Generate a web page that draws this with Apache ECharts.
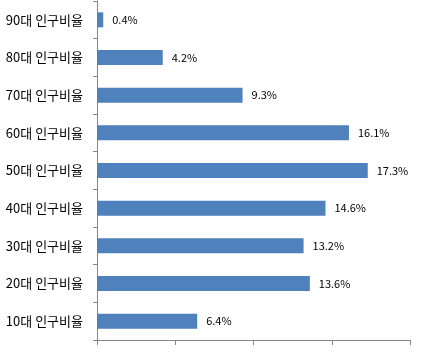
<!DOCTYPE html>
<html>
<head>
<meta charset="utf-8">
<script src="https://cdn.jsdelivr.net/npm/echarts@6/dist/echarts.min.js"></script>
<style>
  html, body { margin: 0; padding: 0; background: #fff; }
  #chart { width: 427px; height: 352px; }
</style>
</head>
<body>
<div id="chart"></div>
<script>
const categories = ['10대 인구비율', '20대 인구비율', '30대 인구비율', '40대 인구비율', '50대 인구비율', '60대 인구비율', '70대 인구비율', '80대 인구비율', '90대 인구비율']
const ratios = [6.4, 13.6, 13.2, 14.6, 17.3, 16.1, 9.3, 4.2, 0.4]

const chart = echarts.init(document.getElementById('chart'))

chart.setOption({
  animation: false,
  grid: { left: 97, right: 17, top: 1, bottom: 12, containLabel: false },
  xAxis: {
    type: 'value',
    min: 0,
    max: 20,
    interval: 5,
    axisLine: { show: true, lineStyle: { color: '#868686', width: 1 } },
    axisTick: { show: true, length: 5, lineStyle: { color: '#868686' } },
    axisLabel: { show: false },
    splitLine: { show: false }
  },
  yAxis: {
    type: 'category',
    data: categories,
    axisLine: { show: true, lineStyle: { color: '#868686', width: 1 } },
    axisTick: { show: true, length: 4, alignWithLabel: false, lineStyle: { color: '#868686' } },
    axisLabel: {
      color: '#000',
      fontSize: 13,
      margin: 14,
      fontFamily: 'Noto Sans CJK KR'
    }
  },
  series: [
    {
      type: 'bar',
      data: ratios,
      barWidth: 15,
      itemStyle: { color: '#4f81bd' },
      label: {
        show: true,
        position: 'right',
        distance: 9,
        color: '#000',
        fontSize: 11,
        fontFamily: 'Noto Sans CJK KR',
        formatter: p => p.value + '%'
      }
    }
  ]
})
</script>
</body>
</html>
